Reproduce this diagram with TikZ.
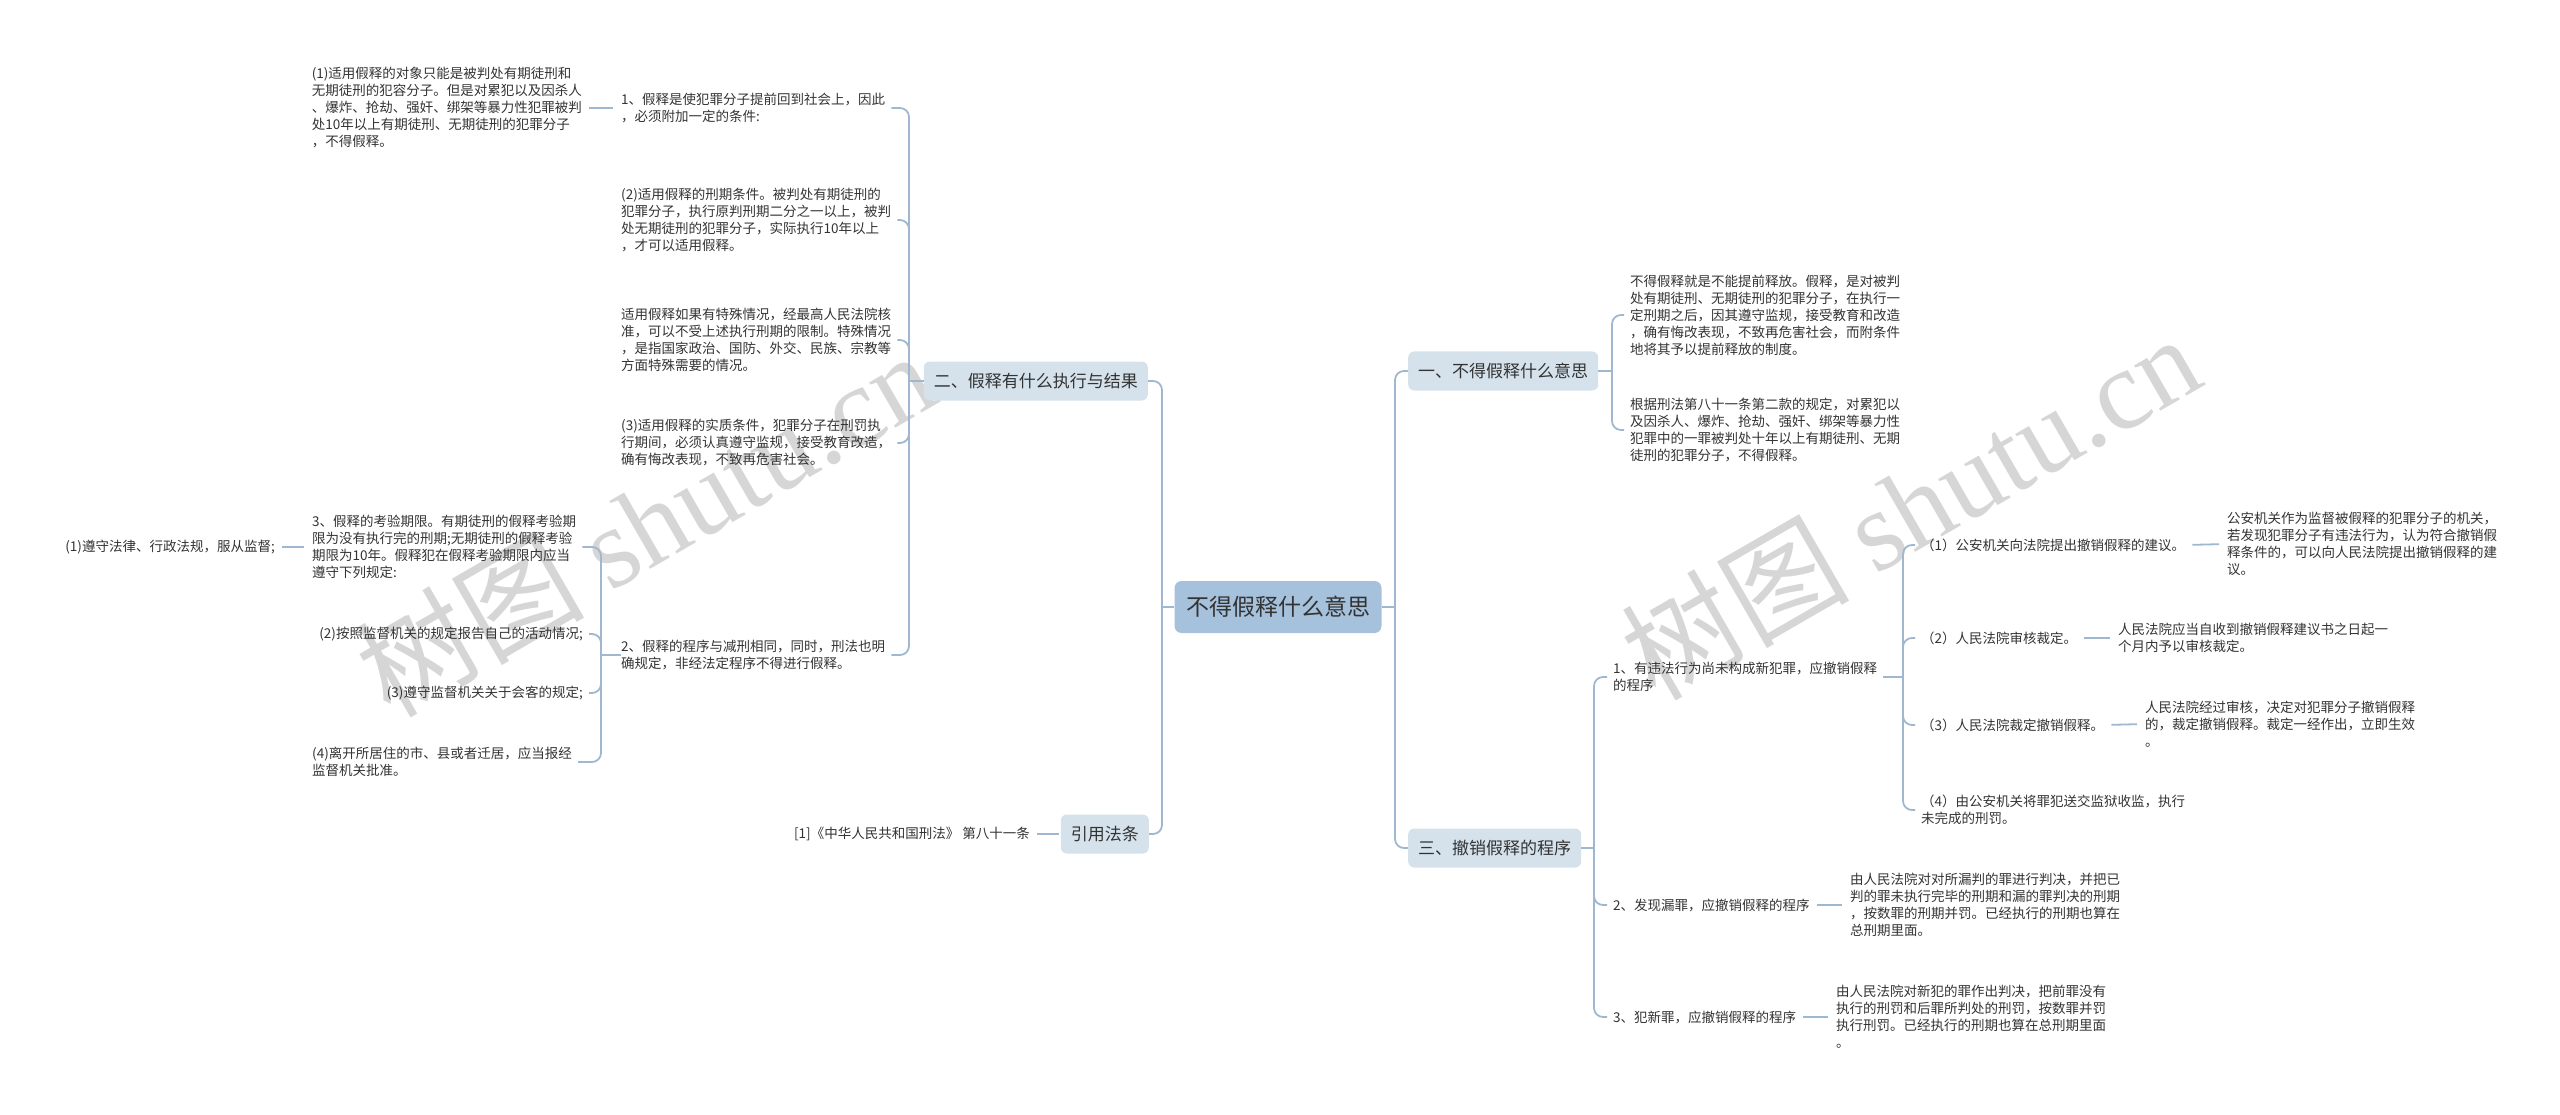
\documentclass[tikz,border=0pt]{standalone}
\usepackage{fontspec}
\setmainfont{Noto Sans CJK SC}
\newfontfamily\wmserif{Liberation Serif}
\definecolor{lc}{HTML}{A0B8CF}
\definecolor{boxl}{HTML}{D5E2EC}
\definecolor{boxd}{HTML}{A6C1DC}
\definecolor{tc}{HTML}{333333}
\definecolor{wmc}{HTML}{D6D6D6}
\begin{document}
\begin{tikzpicture}[x=1pt,y=-1pt,
  conn/.style={draw=lc, line width=1.8pt, rounded corners=9pt},
  tick/.style={draw=lc, line width=1.8pt, shorten <=7pt, shorten >=8pt},
  leaf/.style={font=\fontsize{13.5}{17}\selectfont, text=tc, align=left, inner sep=0pt},
  topic/.style={font=\fontsize{17}{20}\selectfont, text=tc, fill=boxl, rounded corners=6pt, minimum height=39pt, inner xsep=10pt},
  rootbox/.style={font=\fontsize{23}{26}\selectfont, text=tc, fill=boxd, rounded corners=7pt, minimum height=52pt, minimum width=207pt},
  wm/.style={text=wmc, rotate=30, font=\fontsize{114}{114}\selectfont, inner sep=0pt}
]
\useasboundingbox (0,0) rectangle (2560,1115);

% ---- watermarks (behind everything)
\node[wm] (wmL) at (645,523) {树图 {\wmserif shutu.cn}};
\node[wm] (wmR) at (1910,506) {树图 {\wmserif shutu.cn}};

% ---- main nodes
\node[rootbox] (root) at (1278,607) {不得假释什么意思};
\node[topic, anchor=west] (t1) at (1408,371) {一、不得假释什么意思};
\node[topic, anchor=west] (t3) at (1408,848) {三、撤销假释的程序};
\node[topic, anchor=east] (t2) at (1148,381) {二、假释有什么执行与结果};
\node[topic, anchor=east] (t4) at (1149,834) {引用法条};

% ---- junctions
\coordinate (jR) at (1395,607);
\coordinate (jL) at (1162,607);
\coordinate (j1) at (1612,371);
\coordinate (j3) at (1594,848);
\coordinate (jF) at (1903,677);
\coordinate (j2) at (909,381);
\coordinate (jC) at (601,655);

% ---- left branch: 二
\node[leaf, anchor=east] (A1) at (582,108) {(1)适用假释的对象只能是被判处有期徒刑和\\无期徒刑的犯容分子。但是对累犯以及因杀人\\、爆炸、抢劫、强奸、绑架等暴力性犯罪被判\\处10年以上有期徒刑、无期徒刑的犯罪分子\\，不得假释。};
\node[leaf, anchor=west] (B1) at (621,108) {1、假释是使犯罪分子提前回到社会上，因此\\，必须附加一定的条件:};
\node[leaf, anchor=west] (B2) at (621,220) {(2)适用假释的刑期条件。被判处有期徒刑的\\犯罪分子，执行原判刑期二分之一以上，被判\\处无期徒刑的犯罪分子，实际执行10年以上\\，才可以适用假释。};
\node[leaf, anchor=west] (B3) at (621,340) {适用假释如果有特殊情况，经最高人民法院核\\准，可以不受上述执行刑期的限制。特殊情况\\，是指国家政治、国防、外交、民族、宗教等\\方面特殊需要的情况。};
\node[leaf, anchor=west] (B4) at (621,443) {(3)适用假释的实质条件，犯罪分子在刑罚执\\行期间，必须认真遵守监规，接受教育改造，\\确有悔改表现，不致再危害社会。};
\node[leaf, anchor=west] (B5) at (621,655) {2、假释的程序与减刑相同，同时，刑法也明\\确规定，非经法定程序不得进行假释。};

\node[leaf, anchor=west] (C1) at (312,547) {3、假释的考验期限。有期徒刑的假释考验期\\限为没有执行完的刑期;无期徒刑的假释考验\\期限为10年。假释犯在假释考验期限内应当\\遵守下列规定:};
\node[leaf, anchor=east] (C2) at (583,634) {(2)按照监督机关的规定报告自己的活动情况;};
\node[leaf, anchor=east] (C3) at (583,693) {(3)遵守监督机关关于会客的规定;};
\node[leaf, anchor=west] (C4) at (312,762) {(4)离开所居住的市、县或者迁居，应当报经\\监督机关批准。};
\node[leaf, anchor=east] (D1) at (275,547) {(1)遵守法律、行政法规，服从监督;};

\node[leaf, anchor=east] (R1) at (1030,834) {[1]《中华人民共和国刑法》 第八十一条};

% ---- right branch: 一
\node[leaf, anchor=west] (E1) at (1630,315) {不得假释就是不能提前释放。假释，是对被判\\处有期徒刑、无期徒刑的犯罪分子，在执行一\\定刑期之后，因其遵守监规，接受教育和改造\\，确有悔改表现，不致再危害社会，而附条件\\地将其予以提前释放的制度。};
\node[leaf, anchor=west] (E2) at (1630,430) {根据刑法第八十一条第二款的规定，对累犯以\\及因杀人、爆炸、抢劫、强奸、绑架等暴力性\\犯罪中的一罪被判处十年以上有期徒刑、无期\\徒刑的犯罪分子，不得假释。};

% ---- right branch: 三
\node[leaf, anchor=west] (F1) at (1613,677) {1、有违法行为尚未构成新犯罪，应撤销假释\\的程序};
\node[leaf, anchor=west] (F2) at (1613,905) {2、发现漏罪，应撤销假释的程序};
\node[leaf, anchor=west] (F3) at (1613,1017) {3、犯新罪，应撤销假释的程序};

\node[leaf, anchor=west] (G1) at (1921,545) {（1）公安机关向法院提出撤销假释的建议。};
\node[leaf, anchor=west] (G2) at (1921,638) {（2）人民法院审核裁定。};
\node[leaf, anchor=west] (G3) at (1921,725) {（3）人民法院裁定撤销假释。};
\node[leaf, anchor=west] (G4) at (1921,810) {（4）由公安机关将罪犯送交监狱收监，执行\\未完成的刑罚。};

\node[leaf, anchor=west] (H1) at (2227,544) {公安机关作为监督被假释的犯罪分子的机关，\\若发现犯罪分子有违法行为，认为符合撤销假\\释条件的，可以向人民法院提出撤销假释的建\\议。};
\node[leaf, anchor=west] (H2) at (2118,638) {人民法院应当自收到撤销假释建议书之日起一\\个月内予以审核裁定。};
\node[leaf, anchor=west] (H3) at (2145,724) {人民法院经过审核，决定对犯罪分子撤销假释\\的，裁定撤销假释。裁定一经作出，立即生效\\。};

\node[leaf, anchor=west] (I2) at (1850,905) {由人民法院对对所漏判的罪进行判决，并把已\\判的罪未执行完毕的刑期和漏的罪判决的刑期\\，按数罪的刑期并罚。已经执行的刑期也算在\\总刑期里面。};
\node[leaf, anchor=west] (I3) at (1836,1017) {由人民法院对新犯的罪作出判决，把前罪没有\\执行的刑罚和后罪所判处的刑罚，按数罪并罚\\执行刑罚。已经执行的刑期也算在总刑期里面\\。};

% ---- connectors: root
\draw[conn] (root.east) -- (jR);
\draw[conn] (jR) |- (t1.west);
\draw[conn] (jR) |- (t3.west);
\draw[conn] (root.west) -- (jL);
\draw[conn] (jL) |- (t2.east);
\draw[conn] (jL) |- (t4.east);

% ---- 二
\draw[conn] (t2.west) -- (j2);
\foreach \n in {B1,B2,B3,B4,B5} \draw[conn, shorten >=6pt] (j2) |- (\n.east);
\draw[tick] (A1.east) -- (B1.west);
\draw[conn] (B5.west) -- (jC);
\foreach \n in {C1,C2,C3,C4} \draw[conn, shorten >=6pt] (jC) |- (\n.east);
\draw[tick] (D1.east) -- (C1.west);
\draw[tick, shorten >=2pt] (R1.east) -- (t4.west);

% ---- 一
\draw[conn] (t1.east) -- (j1);
\foreach \n in {E1,E2} \draw[conn, shorten >=6pt] (j1) |- (\n.west);

% ---- 三
\draw[conn] (t3.east) -- (j3);
\foreach \n in {F1,F2,F3} \draw[conn, shorten >=6pt] (j3) |- (\n.west);
\draw[conn, shorten <=6pt] (F1.east) -- (jF);
\foreach \n in {G1,G2,G3,G4} \draw[conn, shorten >=6pt] (jF) |- (\n.west);
\draw[tick] (G1.east) -- (H1.west);
\draw[tick] (G2.east) -- (H2.west);
\draw[tick] (G3.east) -- (H3.west);
\draw[tick] (F2.east) -- (I2.west);
\draw[tick] (F3.east) -- (I3.west);
\end{tikzpicture}
\end{document}
